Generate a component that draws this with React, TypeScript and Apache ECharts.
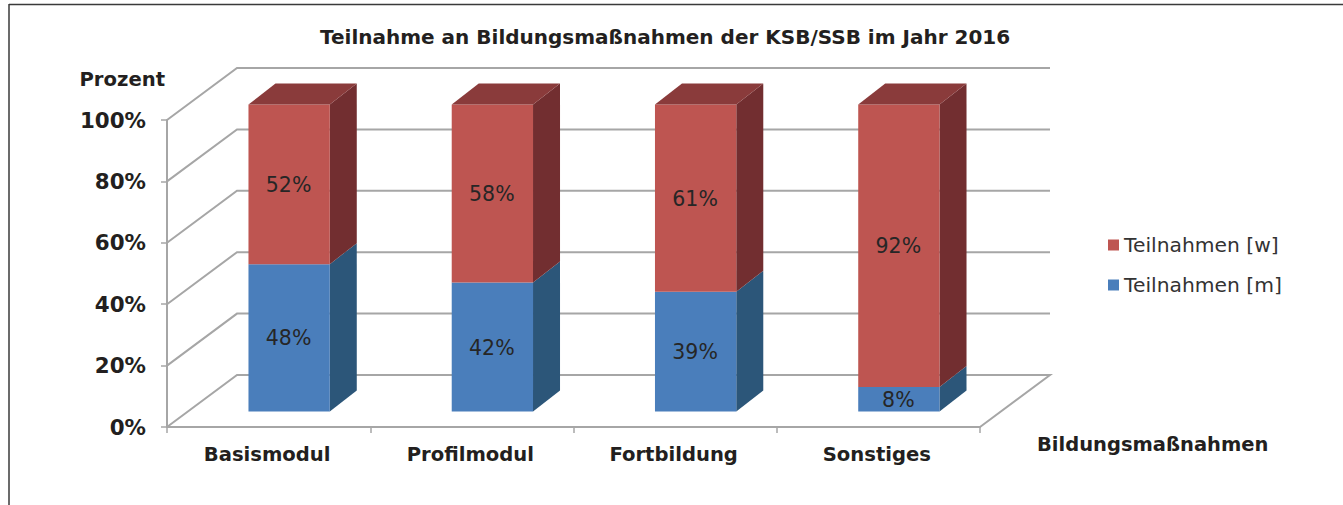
import React, { useEffect, useRef } from "react";
import * as echarts from "echarts";

const titleText = "Teilnahme an Bildungsmaßnahmen der KSB/SSB im Jahr 2016";
const categories = ["Basismodul", "Profilmodul", "Fortbildung", "Sonstiges"];
const valuesM = [48, 42, 39, 8];
const valuesW = [52, 58, 61, 92];
const wallTicks = [0, 20, 40, 60, 80, 100];
const FONT = "'DejaVu Sans', Verdana, sans-serif";
const GRAY = "#a6a6a6";
const TEXT = "#231f20";

const WALL_DX = 70;
const WALL_DY = -52;
const BAR_DX = 20.5;
const BAR_DY = -15.5;
const DEPTH_DX = 27;
const DEPTH_DY = -21;
const BAR_RATIO = 0.4;

function barRenderer(front: string, side: string, top: string | null) {
  return (params: any, api: any) => {
    const i = api.value(0);
    const start = api.value(1);
    const end = api.value(2);
    const band = api.size([1, 0])[0];
    const w = band * BAR_RATIO;
    const p0 = api.coord([i, start]);
    const p1 = api.coord([i, end]);
    const l = p0[0] - w / 2 + BAR_DX;
    const r = l + w;
    const b = p0[1] + BAR_DY;
    const t = p1[1] + BAR_DY;
    const children: any[] = [
      { type: "polygon", shape: { points: [[r, t], [r + DEPTH_DX, t + DEPTH_DY], [r + DEPTH_DX, b + DEPTH_DY], [r, b]] }, style: { fill: side } },
      { type: "polygon", shape: { points: [[l, t], [r, t], [r, b], [l, b]] }, style: { fill: front } },
    ];
    if (top) {
      children.push({ type: "polygon", shape: { points: [[l, t], [l + DEPTH_DX, t + DEPTH_DY], [r + DEPTH_DX, t + DEPTH_DY], [r, t]] }, style: { fill: top } });
    }
    children.push({
      type: "text",
      style: {
        x: (l + r) / 2 - 0.5, y: (t + b) / 2 + 0.5, text: `${end - start}%`, fill: "#262626",
        font: `20.5px ${FONT}`, align: "center", verticalAlign: "middle",
      },
    });
    return { type: "group", children };
  };
}

function wallRenderer(params: any, api: any) {
  const v = api.value(1);
  const band = api.size([1, 0])[0];
  const p = api.coord([0, v]);
  const x0 = p[0] - band / 2;
  const x1 = x0 + band * categories.length;
  const y = p[1];
  const pts: number[][] = [[x0, y], [x0 + WALL_DX, y + WALL_DY], [x1 + WALL_DX, y + WALL_DY]];
  if (v === 0) pts.push([x1, y]);
  return { type: "polyline", shape: { points: pts }, style: { stroke: GRAY, lineWidth: 2, fill: "none" } };
}

export default function App() {
  const ref = useRef<HTMLDivElement>(null);
  useEffect(() => {
    if (!ref.current) return;
    const chart = echarts.init(ref.current, undefined, { renderer: "svg" });
    chart.setOption({
      animation: false,
      backgroundColor: "#ffffff",
      title: {
        text: titleText, left: 315, top: 22,
        textStyle: { fontFamily: FONT, fontWeight: "bold", fontSize: 20, color: TEXT },
      },
      grid: { left: 167, right: 363, top: 120, bottom: 78, containLabel: false },
      legend: {
        orient: "vertical", left: 1103, top: 230, itemWidth: 11, itemHeight: 11, itemGap: 20,
        selectedMode: false,
        textStyle: { fontFamily: FONT, fontSize: 20.3, color: "#333333", lineHeight: 20 },
        data: [
          { name: "Teilnahmen [w]", icon: "rect", itemStyle: { color: "#BE5551" } },
          { name: "Teilnahmen [m]", icon: "rect", itemStyle: { color: "#4A7EBB" } },
        ],
      },
      xAxis: {
        type: "category",
        data: categories,
        name: "Bildungsmaßnahmen",
        nameLocation: "end",
        nameGap: 57,
        nameTextStyle: { fontFamily: FONT, fontWeight: "bold", fontSize: 19.5, color: TEXT, align: "left", verticalAlign: "top", padding: [7, 0, 0, 0] },
        axisLine: { show: true, lineStyle: { color: GRAY, width: 2 } },
        axisTick: { show: true, alignWithLabel: false, length: 6, lineStyle: { color: GRAY, width: 1.5 } },
        axisLabel: { margin: 17, padding: [0, 3, 0, 0], fontFamily: FONT, fontWeight: "bold", fontSize: 19.6, color: TEXT },
        splitLine: { show: false },
      },
      yAxis: {
        type: "value", min: 0, max: 100, interval: 20,
        name: "Prozent",
        nameLocation: "end",
        nameGap: 41,
        nameTextStyle: { fontFamily: FONT, fontWeight: "bold", fontSize: 19.6, color: TEXT, align: "right", verticalAlign: "middle", padding: [0, 2, 0, 0] },
        axisLine: { show: true, lineStyle: { color: GRAY, width: 2 } },
        axisTick: { show: true, length: 6, lineStyle: { color: GRAY, width: 1.5 } },
        axisLabel: { formatter: "{value}%", margin: 21, padding: [6, 0, 0, 0], fontFamily: FONT, fontWeight: "bold", fontSize: 21.4, color: TEXT },
        splitLine: { show: false },
      },
      graphic: [
        { type: "line", shape: { x1: 9, y1: 4.5, x2: 1343, y2: 4.5 }, style: { stroke: "#3a3a3a", lineWidth: 1.5 } },
        { type: "line", shape: { x1: 9, y1: 4, x2: 9, y2: 505 }, style: { stroke: "#3a3a3a", lineWidth: 1.5 } },
      ],
      series: [
        {
          name: "wall", type: "custom", z: 1, renderItem: wallRenderer, silent: true,
          encode: { x: 0, y: 1 },
          data: wallTicks.map((v) => [0, v]),
        },
        {
          name: "Teilnahmen [m]", type: "custom", z: 2, renderItem: barRenderer("#4A7EBB", "#2C5679", null),
          itemStyle: { color: "#4A7EBB" },
          encode: { x: 0, y: [1, 2] },
          data: valuesM.map((v, i) => [i, 0, v]),
        },
        {
          name: "Teilnahmen [w]", type: "custom", z: 3, renderItem: barRenderer("#BE5551", "#722E30", "#8A3B3B"),
          itemStyle: { color: "#BE5551" },
          encode: { x: 0, y: [1, 2] },
          data: valuesW.map((v, i) => [i, valuesM[i], valuesM[i] + v]),
        },
      ],
    });
    return () => chart.dispose();
  }, []);
  return <div ref={ref} style={{ position: "absolute", left: 0, top: 0, width: 1343, height: 505 }} />;
}
